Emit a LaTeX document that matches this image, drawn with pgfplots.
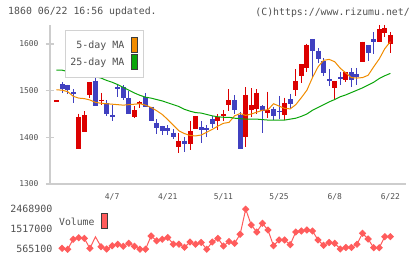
\documentclass[border=0pt]{standalone}
\usepackage{pgfplots}
\usepackage{pgfplotstable}
\pgfplotsset{compat=1.18}
\usepackage{fontspec}
\setmainfont{DejaVu Sans Mono}

\definecolor{upred}{RGB}{220,0,0}
\definecolor{downblue}{RGB}{64,64,192}
\definecolor{maorange}{RGB}{240,140,0}
\definecolor{magreen}{RGB}{10,165,10}
\definecolor{volred}{RGB}{255,92,92}
\definecolor{axisgray}{RGB}{205,205,205}
\definecolor{boxgray}{RGB}{210,210,210}
\definecolor{txtgray}{RGB}{80,80,80}
\definecolor{swatchedge}{RGB}{60,60,60}

% rising sessions: index, open, high, low, close
\pgfplotstableread{
i O H L C
0 1476 1479 1476 1479
4 1376 1451 1376 1444
5 1412 1456 1412 1447
6 1491 1519 1484 1518
8 1477 1495 1469 1481
14 1444 1467 1441 1459
15 1472 1478 1462 1475
22 1380 1409 1367 1392
24 1385 1435 1373 1414
25 1417 1446 1417 1446
29 1434 1450 1416 1443
30 1446 1459 1434 1450
31 1469 1503 1457 1480
34 1401 1507 1379 1491
35 1459 1505 1443 1469
36 1461 1503 1451 1496
38 1453 1498 1441 1459
41 1448 1485 1437 1473
43 1501 1546 1489 1521
44 1531 1557 1516 1557
45 1549 1601 1541 1598
50 1506 1521 1482 1521
52 1523 1541 1519 1540
55 1562 1605 1562 1605
58 1605 1641 1605 1632
59 1624 1641 1614 1634
60 1601 1626 1580 1619
}\upcandles

% falling sessions: index, open, high, low, close
\pgfplotstableread{
i O H L C
1 1514 1519 1496 1504
2 1512 1513 1493 1502
3 1497 1503 1474 1492
7 1521 1538 1467 1467
9 1473 1479 1446 1449
10 1448 1470 1436 1444
11 1507 1515 1487 1504
12 1507 1512 1480 1485
13 1484 1500 1451 1451
16 1487 1494 1466 1466
17 1466 1466 1436 1436
18 1430 1439 1407 1421
19 1424 1425 1404 1414
20 1419 1426 1404 1414
21 1410 1417 1396 1401
23 1393 1400 1369 1385
26 1422 1435 1388 1416
27 1419 1426 1400 1415
28 1439 1446 1419 1429
32 1480 1491 1450 1459
33 1448 1455 1376 1376
37 1467 1469 1410 1457
39 1461 1466 1437 1446
40 1457 1489 1439 1454
42 1482 1493 1462 1471
46 1611 1611 1527 1584
47 1585 1591 1559 1567
48 1564 1569 1531 1537
49 1524 1546 1510 1521
51 1529 1541 1512 1525
53 1539 1549 1508 1523
54 1536 1549 1512 1529
56 1598 1598 1564 1581
57 1611 1626 1578 1605
}\downcandles

% moving averages
\pgfplotstableread{
i M5 M25
0 1502 1544
1 1501 1544
2 1498 1541
3 1488 1538
4 1484 1536
5 1483 1534
6 1480 1532
7 1475 1530
8 1473 1527
9 1472 1522
10 1471 1518
11 1470 1513
12 1469 1507
13 1470 1501
14 1471 1495
15 1472 1490
16 1469 1486
17 1464 1484
18 1457 1481
19 1449 1478
20 1438 1474
21 1426 1470
22 1414 1466
23 1408 1460
24 1404 1456
25 1403 1453
26 1405 1452
27 1411 1449
28 1417 1446
29 1424 1444
30 1430 1443
31 1432 1443
32 1446 1441
33 1451 1440
34 1447 1439
35 1450 1439
36 1454 1439
37 1458 1438
38 1459 1437
39 1472 1437
40 1467 1437
41 1462 1437
42 1461 1439
43 1470 1441
44 1485 1445
45 1501 1450
46 1528 1458
47 1551 1464
48 1565 1470
49 1567 1476
50 1562 1481
51 1548 1487
52 1538 1491
53 1528 1496
54 1527 1501
55 1528 1506
56 1533 1512
57 1551 1518
58 1568 1526
59 1590 1532
60 1605 1537
}\movavg

% daily volume
\pgfplotstableread{
i V
1 598000
2 551000
3 1027000
4 1103000
5 1070000
6 598000
7 1146000
8 675000
9 565000
10 717000
11 789000
12 694000
13 836000
14 694000
15 556000
16 556000
17 1184000
18 955000
19 1027000
20 1113000
21 794000
22 794000
23 646000
24 898000
25 794000
26 875000
27 556000
28 898000
29 1074000
30 708000
31 922000
32 836000
33 1265000
34 2460000
35 1707000
36 1374000
37 1788000
38 1469000
39 722000
40 994000
41 994000
42 770000
43 1374000
44 1422000
45 1469000
46 1422000
47 994000
48 741000
49 875000
50 836000
51 565000
52 637000
53 637000
54 789000
55 1312000
56 1041000
57 627000
58 627000
59 1151000
60 1151000
}\volume

% a candle part is an error bar hanging down from its top value
\pgfplotsset{
  candlewick/.style={draw=none, mark=none,
    error bars/.cd, y dir=minus, y explicit, error mark=none,
    error bar style={draw=#1, line width=1bp}},
  candlebody/.style={draw=none, mark=none,
    error bars/.cd, y dir=minus, y explicit, error mark=none,
    error bar style={draw=#1, line width=5bp}},
}

\begin{document}
\begin{tikzpicture}
\useasboundingbox (0,0) rectangle (420bp,-259bp);

\begin{axis}[
  at={(50bp,-184bp)}, anchor=south west,
  scale only axis, width=356bp, height=159bp,
  xmin=-1.168, xmax=62.81, ymin=1300, ymax=1640.7,
  axis x line*=bottom, axis y line*=left,
  axis line style={draw=axisgray, line width=1.2bp, -},
  minor xtick={-1.168,4.632,10.432,16.232,22.032,27.832,33.632,39.432,45.232,51.032,56.832,62.632},
  minor tick style={draw=axisgray, line width=1.2bp},
  minor tick length=8bp,
  xtick={10,20,30,40,50,60},
  xticklabels={4/7,4/21,5/11,5/25,6/8,6/22},
  xtick style={draw=none},
  ytick={1300,1400,1500,1600},
  yticklabels={1300,1400,1500,1600},
  ytick style={draw=axisgray, line width=1.2bp},
  tick align=center, major tick length=8bp,
  ticklabel style={font=\fontsize{8}{9}\selectfont, text=txtgray},
  yticklabel style={xshift=-4bp},
  xticklabel style={yshift=-2bp},
  clip=false,
]
  \addplot[candlewick=upred] table[x=i, y=H, y error minus expr=\thisrow{H}-\thisrow{L}] {\upcandles};
  \addplot[candlebody=upred] table[x=i, y=C, y error minus expr=\thisrow{C}-\thisrow{O}] {\upcandles};
  \addplot[candlewick=downblue] table[x=i, y=H, y error minus expr=\thisrow{H}-\thisrow{L}] {\downcandles};
  \addplot[candlebody=downblue] table[x=i, y=O, y error minus expr=\thisrow{O}-\thisrow{C}] {\downcandles};
  \addplot[maorange, line width=1bp] table[x=i, y=M5] {\movavg};
  \addplot[magreen, line width=1bp] table[x=i, y=M25] {\movavg};
\end{axis}

\begin{axis}[
  at={(50bp,-255bp)}, anchor=south west,
  scale only axis, width=356bp, height=50bp,
  xmin=-1.168, xmax=62.81, ymin=279530, ymax=2659280,
  hide x axis, axis y line*=left,
  y axis line style={draw=none},
  scaled y ticks=false,
  ytick={565100,1517000,2468900},
  yticklabels={565100,1517000,2468900},
  ytick style={draw=none},
  yticklabel style={font=\fontsize{10}{12}\selectfont, text=txtgray, xshift=6bp},
  clip=false,
]
  \addplot[volred, line width=1bp, mark=square*, mark size=2.1bp,
    mark options={rotate=45, draw=volred, fill=volred},
    mark indices={1,2,3,4,5,6,8,9,10,11,12,13,14,15,16,17,18,19,20,21,22,23,24,25,26,27,28,29,30,31,32,33,34,35,36,37,38,39,40,41,42,43,44,45,46,47,48,49,50,51,52,53,54,55,56,57,58,59,60}]
    table[x=i, y=V] {\volume};
\end{axis}

% header lines
\node[anchor=west, inner sep=0, text=txtgray, font=\fontsize{9.9}{11}\selectfont] at (8bp,-12bp) {1860 06/22 16:56 updated.};
\node[anchor=east, inner sep=0, text=txtgray, font=\fontsize{9.9}{11}\selectfont] at (410bp,-12.7bp) {(C)https://www.rizumu.net/};

% price legend
\draw[draw=boxgray, fill=white, line width=0.8bp] (65bp,-30bp) rectangle (143bp,-77bp);
\node[anchor=east, inner sep=0, text=txtgray, font=\fontsize{10}{12}\selectfont] at (124.5bp,-45.7bp) {5-day MA};
\node[anchor=east, inner sep=0, text=txtgray, font=\fontsize{10}{12}\selectfont] at (124.5bp,-62.7bp) {25-day MA};
\draw[fill=maorange, draw=swatchedge, line width=0.8bp] (131bp,-37bp) rectangle (137bp,-52bp);
\draw[fill=magreen, draw=swatchedge, line width=0.8bp] (131bp,-54bp) rectangle (137bp,-69bp);

% volume legend
\node[anchor=west, inner sep=0, text=txtgray, font=\fontsize{9.8}{12}\selectfont] at (59bp,-221.7bp) {Volume};
\draw[fill=volred, draw=swatchedge, line width=0.8bp] (101bp,-213bp) rectangle (107bp,-228bp);
\end{tikzpicture}
\end{document}
